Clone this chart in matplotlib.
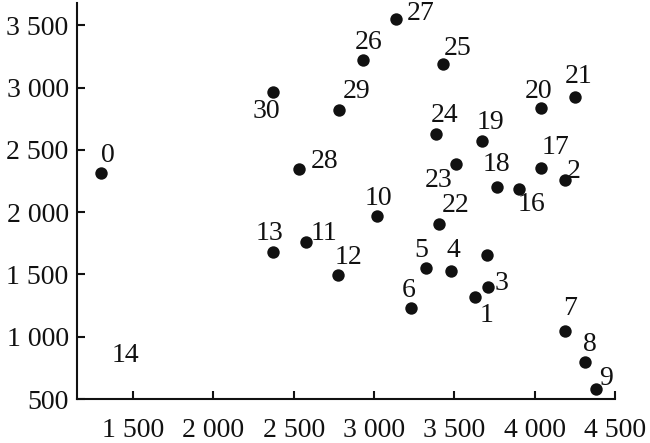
import matplotlib
matplotlib.use("Agg")
import matplotlib.pyplot as plt
from matplotlib.ticker import FuncFormatter

plt.rcParams["font.family"] = ["Liberation Serif", "DejaVu Serif"]

# point ids, coordinates
ids = [0, 1, 2, 3, 4, 5, 6, 7, 8, 9, 10, 11, 12, 13, 15,
       16, 17, 18, 19, 20, 21, 22, 23, 24, 25, 26, 27, 28, 29, 30]
xs = [1301, 3627, 4190, 3712, 3482, 3326, 3227, 4186, 4314, 4383, 3021, 2575, 2776, 2370, 3702,
      3903, 4038, 3768, 3669, 4042, 4252, 3403, 3513, 3383, 3430, 2934, 3138, 2534, 2781, 2370]
ys = [2314, 1316, 2258, 1396, 1525, 1551, 1228, 1046, 799, 583, 1966, 1757, 1495, 1677, 1658,
      2188, 2354, 2204, 2573, 2833, 2921, 1904, 2383, 2627, 3189, 3221, 3552, 2348, 2822, 2966]
# which points carry a number next to them (15 does not)
shown = [i != 15 for i in ids]

# label 14 appears alone, without a marker
lone_id = 14
lone_x, lone_y = 1450, 853

# label offsets in pixels (dx right, dy up)
offsets = {
    0: (7, 18), 1: (12, -18), 2: (8, 9), 3: (13, 4), 4: (2, 21), 5: (-5, 18),
    6: (-2, 18), 7: (5, 22), 8: (5, 17), 9: (10, 10), 10: (1, 18), 11: (18, 9),
    12: (10, 18), 13: (-3, 19), 16: (12, -16), 17: (15, 21), 18: (-1, 22),
    19: (9, 18), 20: (-3, 17), 21: (3, 21), 22: (17, 19), 23: (-18, -16),
    24: (9, 19), 25: (14, 16), 26: (5, 18), 27: (24, 5), 28: (25, 7),
    29: (18, 18), 30: (-6, -20),
}

fig = plt.figure(figsize=(6.5, 4.43), dpi=100)
ax = fig.add_axes([0.1185, 0.0993, 0.8277, 0.8937])

ax.scatter(xs, ys, s=80, color="#111111", zorder=3, linewidths=0)

for i, x, y, s in zip(ids, xs, ys, shown):
    if not s:
        continue
    dx, dy = offsets[i]
    ax.annotate(str(i), (x, y), xytext=(dx, dy), textcoords="offset pixels",
                ha="center", va="center", fontsize=20, color="#111111")
ax.text(lone_x, lone_y, str(lone_id), ha="center", va="center",
        fontsize=20, color="#111111")

ax.set_xlim(1151, 4500)
ax.set_ylim(500, 3678)
ax.set_xticks([1500, 2000, 2500, 3000, 3500, 4000, 4500])
ax.set_yticks([500, 1000, 1500, 2000, 2500, 3000, 3500])
fmt = FuncFormatter(lambda v, p: f"{v:,.0f}".replace(",", " "))
ax.xaxis.set_major_formatter(fmt)
ax.yaxis.set_major_formatter(fmt)

for side in ("top", "right"):
    ax.spines[side].set_visible(False)
for side in ("left", "bottom"):
    ax.spines[side].set_linewidth(1.5)
    ax.spines[side].set_color("#111111")

ax.tick_params(axis="both", direction="in", length=6, width=1.5,
               labelsize=20, colors="#111111")
ax.tick_params(axis="x", pad=14)
ax.tick_params(axis="y", pad=6)

fig.savefig("out.png", dpi=100)
